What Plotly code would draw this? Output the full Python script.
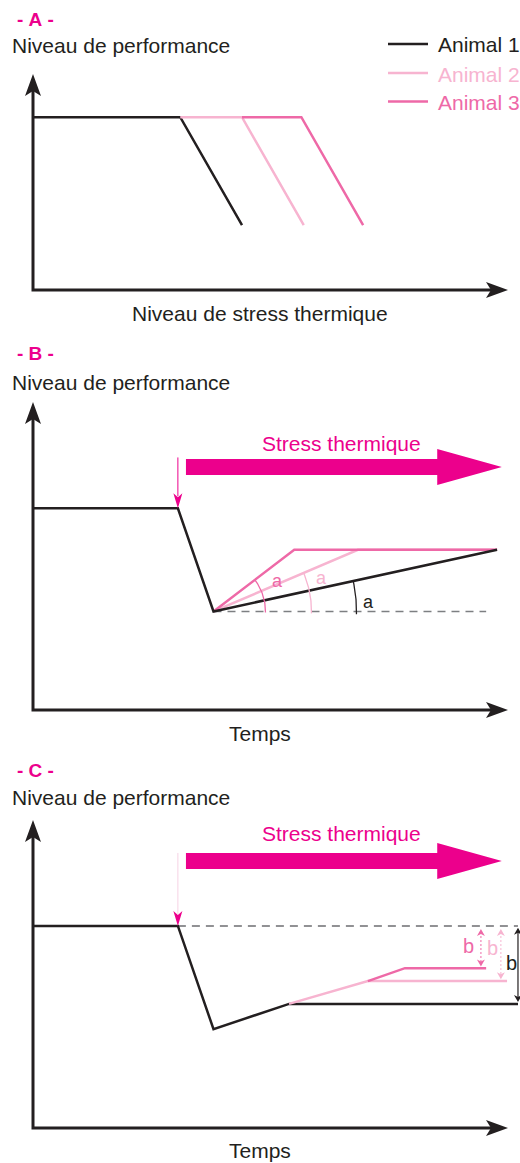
import math
import plotly.graph_objects as go

W, H = 520, 1163

# ---------------- data ----------------
animals = ["Animal 1", "Animal 2", "Animal 3"]

# Panel A : performance vs level of thermal stress
a_x = [[0, 31, 44], [31, 44, 57], [44, 56.5, 69.5]]
a_y = [[80, 80, 30], [80, 80, 30], [80, 80, 30]]

# Panel B : performance vs time (recovery rate "a")
b_x = [[0, 30.5, 38, 97.7], [38, 68.4, 97.7], [38, 55, 97.7]]
b_y = [[65.5, 65.5, 32, 52], [32, 52, 52], [32, 52, 52]]
b_base_x = [38, 95.4]
b_base_y = [32, 32]
b_lbl_x = [70.7, 60.8, 51.4]
b_lbl_y = [35.1, 42.9, 41.9]
b_onset = [30.5, 82, 65.5]          # x, from y, to y
b_stress = [32.2, 85.1, 98.7, 78.9]  # start, head base, tip, centre y
b_stress_txt = [65, 86.4]

# Panel C : performance vs time (residual loss "b")
c_x = [[0, 30.5, 38, 53.9, 102.1], [53.9, 70.5, 99.8], [70.5, 78.3, 95.4]]
c_y = [[65.6, 65.6, 32.1, 40.3, 40.3], [40.3, 47.7, 47.7], [47.7, 51.9, 51.9]]
c_ref_x = [30.5, 102.1]
c_ref_y = [65.6, 65.6]
c_b_x = [102.1, 98.5, 94.3]
c_b_top = [65.0, 64.6, 64.6]
c_b_bot = [40.9, 48.3, 52.4]
c_lbl_x = [100.8, 96.8, 91.6]
c_lbl_y = [53.6, 58.4, 59.1]
c_onset = [30.5, 89.3, 65.6]
c_stress = [32.2, 85.1, 98.7, 86.7]
c_stress_txt = [65, 95.5]

axis_end = 100

# ---------------- style ----------------
colors = ["#231f20", "#f7b4d0", "#ee69a7"]
MAG = "#ec008c"
DARK = "#231f20"
FONT = "Liberation Sans, Arial, sans-serif"
X0, SX = 33, 4.75
panels = {
    "A": dict(ax="x", ay="y", Y0=290, SY=2.16, yr=[-5, 104]),
    "B": dict(ax="x2", ay="y2", Y0=710, SY=3.08, yr=[-3, 103]),
    "C": dict(ax="x3", ay="y3", Y0=1128, SY=3.08, yr=[-3, 103]),
}
XR = [-X0 / SX + 0.6, (W - X0) / SX]

fig = go.Figure()


def add_line(p, xs, ys, color, width=2.5, dash=None):
    P = panels[p]
    fig.add_trace(go.Scatter(x=xs, y=ys, mode="lines", xaxis=P["ax"], yaxis=P["ay"],
                             line=dict(color=color, width=width, dash=dash),
                             hoverinfo="skip", showlegend=False))


def add_poly(p, pts_px, ox, oy, color):
    P = panels[p]
    xs = [ox + u / SX for u, v in pts_px]
    ys = [oy + v / P["SY"] for u, v in pts_px]
    fig.add_trace(go.Scatter(x=xs + xs[:1], y=ys + ys[:1], mode="lines", fill="toself",
                             fillcolor=color, line=dict(width=0, color=color),
                             xaxis=P["ax"], yaxis=P["ay"], hoverinfo="skip", showlegend=False))


def head(p, tx, ty, d, length, hw, notch, color):
    ux, uy = d
    qx, qy = -uy, ux
    pts = [(0, 0),
           (-length * ux + hw * qx, -length * uy + hw * qy),
           (-(length - notch) * ux, -(length - notch) * uy),
           (-length * ux - hw * qx, -length * uy - hw * qy)]
    add_poly(p, pts, tx, ty, color)


def axes(p):
    P = panels[p]
    L, HW, N = 22, 8, 5
    back = (L - N)
    add_line(p, [0, 0, axis_end - back / SX], [axis_end - back / P["SY"], 0, 0], DARK, 3)
    head(p, axis_end, 0, (1, 0), L, HW, N, DARK)
    head(p, 0, axis_end, (0, 1), L, HW, N, DARK)


def stress_arrow(p, s, txt):
    P = panels[p]
    h, Hh = 8, 18
    x0, xb, xt, cy = s
    pts = [(0, h), ((xb - x0) * SX, h), ((xb - x0) * SX, Hh), ((xt - x0) * SX, 0),
           ((xb - x0) * SX, -Hh), ((xb - x0) * SX, -h), (0, -h)]
    add_poly(p, pts, x0, cy, MAG)
    fig.add_annotation(x=txt[0], y=txt[1], xref=P["ax"], yref=P["ay"], text="Stress thermique",
                       showarrow=False, font=dict(family=FONT, size=21, color=MAG))


# ---- Panel A ----
axes("A")
for i in [0, 1, 2]:
    add_line("A", a_x[i], a_y[i], colors[i])

# ---- Panel B ----
axes("B")
add_line("B", b_base_x, b_base_y, "#7d7f82", 1.5, "8px,6px")
for i in [1, 2, 0]:
    add_line("B", b_x[i], b_y[i], colors[i])
vx, vy = b_x[1][0], b_y[1][0]
radii = [143, 98, 52]
for i in range(3):
    if i == 0:
        dx, dy = b_x[0][3] - b_x[0][2], b_y[0][3] - b_y[0][2]
    else:
        dx, dy = b_x[i][1] - b_x[i][0], b_y[i][1] - b_y[i][0]
    th = math.atan2(dy * panels["B"]["SY"], dx * SX)
    n = 30
    ts = [-0.02 + (th + 0.02) * j / n for j in range(n + 1)]
    add_line("B", [vx + radii[i] * math.cos(t) / SX for t in ts],
             [vy + radii[i] * math.sin(t) / panels["B"]["SY"] for t in ts], colors[i], 1.3)
    fig.add_annotation(x=b_lbl_x[i], y=b_lbl_y[i], xref="x2", yref="y2", text="a", showarrow=False,
                       font=dict(family=FONT, size=18, color=colors[i]))
add_line("B", [b_onset[0], b_onset[0]], [b_onset[1], b_onset[2] + 12 / 3.08], MAG, 1)
head("B", b_onset[0], b_onset[2], (0, -1), 15, 4.5, 4, MAG)
stress_arrow("B", b_stress, b_stress_txt)

# ---- Panel C ----
axes("C")
add_line("C", c_ref_x, c_ref_y, "#6d6e71", 1.5, "8px,6px")
for i in [0, 1, 2]:
    add_line("C", c_x[i], c_y[i], colors[i])
for i in range(3):
    col = colors[i]
    if i == 0:
        add_line("C", [c_b_x[i]] * 2, [c_b_top[i] - 3 / 3.08, c_b_bot[i] + 3 / 3.08], col, 1.2)
    else:
        add_line("C", [c_b_x[i]] * 2, [c_b_top[i] - 3 / 3.08, c_b_bot[i] + 3 / 3.08], col, 1, "2px,2px")
    head("C", c_b_x[i], c_b_top[i], (0, 1), 7, 4, 2, col)
    head("C", c_b_x[i], c_b_bot[i], (0, -1), 7, 4, 2, col)
    fig.add_annotation(x=c_lbl_x[i], y=c_lbl_y[i], xref="x3", yref="y3", text="b", showarrow=False,
                       font=dict(family=FONT, size=20, color=col))
add_line("C", [c_onset[0], c_onset[0]], [c_onset[1], c_onset[2] + 12 / 3.08], "#f6d3e4", 1)
head("C", c_onset[0], c_onset[2], (0, -1), 15, 4.5, 4, MAG)
stress_arrow("C", c_stress, c_stress_txt)


# ---------------- text & legend (paper coordinates) ----------------
def ptext(px, py, text, size=21, color=DARK, xanchor="left"):
    fig.add_annotation(x=px / W, y=1 - py / H, xref="paper", yref="paper", text=text,
                       showarrow=False, xanchor=xanchor, yanchor="middle",
                       font=dict(family=FONT, size=size, color=color))


for lab, ty, py in [("A", 19, 46), ("B", 354, 382), ("C", 770, 797)]:
    ptext(15, ty, "<b>-&nbsp;" + lab + "&nbsp;-</b>", 19, MAG)
    ptext(10, py, "Niveau de performance")
ptext(259.5, 313, "Niveau de stress thermique", xanchor="center")
ptext(260, 733, "Temps", xanchor="center")
ptext(260, 1150, "Temps", xanchor="center")

leg_y = [44, 73, 101.5]
for i in range(3):
    fig.add_shape(type="line", xref="paper", yref="paper", x0=388 / W, x1=428 / W,
                  y0=1 - leg_y[i] / H, y1=1 - leg_y[i] / H, line=dict(color=colors[i], width=2.5))
    ptext(436, leg_y[i] + 1, animals[i], 21, colors[i])

# ---------------- layout ----------------
lay = dict(width=W, height=H, margin=dict(l=0, r=0, t=0, b=0), paper_bgcolor="white",
           plot_bgcolor="rgba(0,0,0,0)", showlegend=False, hovermode=False)
for name, P in panels.items():
    yb = P["Y0"] - P["yr"][0] * P["SY"]
    yt = P["Y0"] - P["yr"][1] * P["SY"]
    xd = [(X0 + XR[0] * SX) / W, min(1, (X0 + XR[1] * SX) / W)]
    suf = P["ax"][1:]
    lay["xaxis" + suf] = dict(domain=xd, range=XR, visible=False, fixedrange=True,
                              anchor=P["ay"])
    lay["yaxis" + suf] = dict(domain=[1 - yb / H, 1 - yt / H], range=P["yr"], visible=False,
                              fixedrange=True, anchor=P["ax"])
fig.update_layout(**lay)

fig.write_html("out.html", config={"displayModeBar": False, "staticPlot": True},
               post_script="document.body.style.margin='0';document.body.style.padding='0';")
